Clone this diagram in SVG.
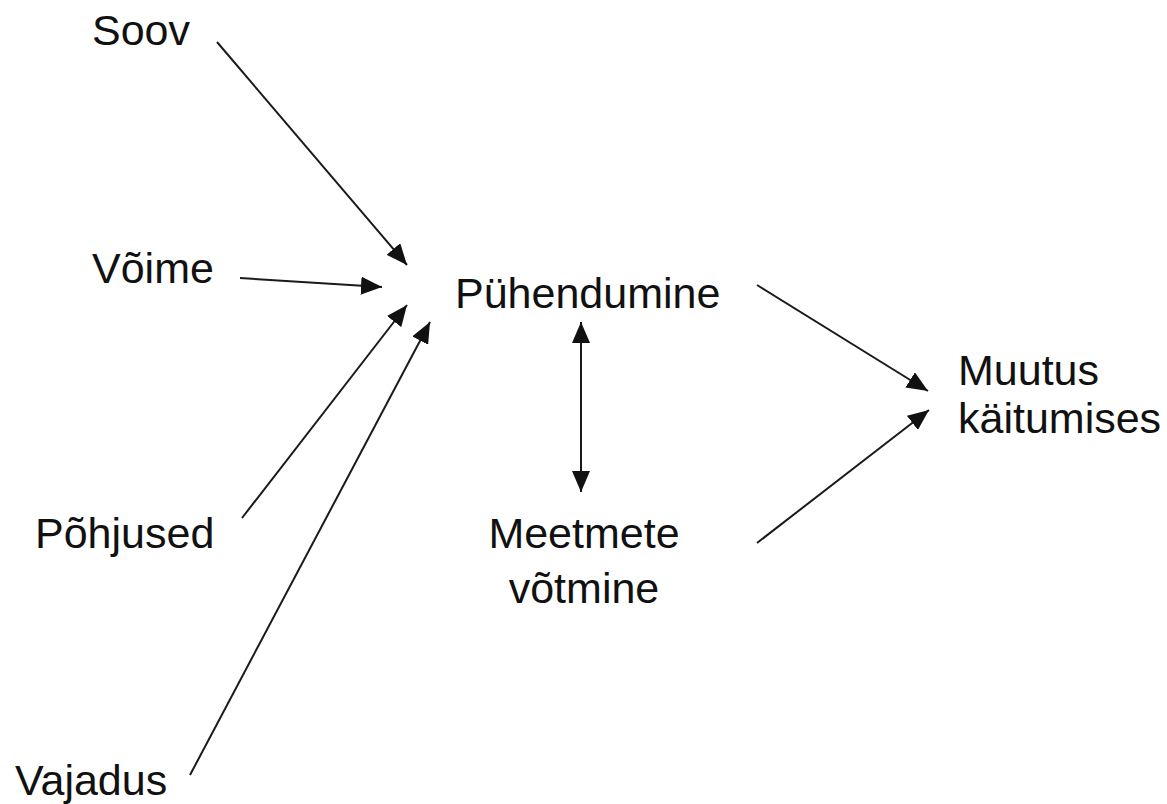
<svg xmlns="http://www.w3.org/2000/svg" width="1167" height="804" viewBox="0 0 1167 804">
<style>
.t{font-family:"Liberation Sans",Arial,Helvetica,sans-serif;font-size:43px;fill:#111}
.c line{stroke:#1a1a1a;stroke-width:2;fill:none;marker-end:url(#ah)}
</style>
<defs>
<marker id="ah" markerUnits="userSpaceOnUse" markerWidth="22" markerHeight="18" viewBox="0 0 22 18" refX="21" refY="9" orient="auto-start-reverse">
<path d="M0,0 L21,9 L0,18 z" fill="#111"/>
</marker>
</defs>
<rect width="1167" height="804" fill="#fff"/>
<g class="c" id="connectors">
<line x1="217" y1="42" x2="407" y2="265"/>
<line x1="240" y1="278" x2="382" y2="287"/>
<line x1="242" y1="518" x2="407" y2="305"/>
<line x1="190" y1="775" x2="430" y2="322"/>
<line x1="757" y1="285" x2="928" y2="391"/>
<line x1="757" y1="543" x2="929" y2="410"/>
<line x1="581" y1="322" x2="581" y2="492" marker-start="url(#ah)"/>
</g>
<g id="soov"><text class="t" x="92" y="45">Soov</text></g>
<g id="voime"><text class="t" x="92" y="283">Võime</text></g>
<g id="pohjused"><text class="t" x="35" y="548">Põhjused</text></g>
<g id="vajadus"><text class="t" x="15" y="795">Vajadus</text></g>
<g id="puhendumine"><text class="t" x="455" y="308">Pühendumine</text></g>
<g id="meetmete"><text class="t" x="584" y="548" text-anchor="middle">Meetmete</text><text class="t" x="584" y="603" text-anchor="middle">võtmine</text></g>
<g id="muutus"><text class="t" x="958" y="385">Muutus</text><text class="t" x="958" y="433">käitumises</text></g>
</svg>
